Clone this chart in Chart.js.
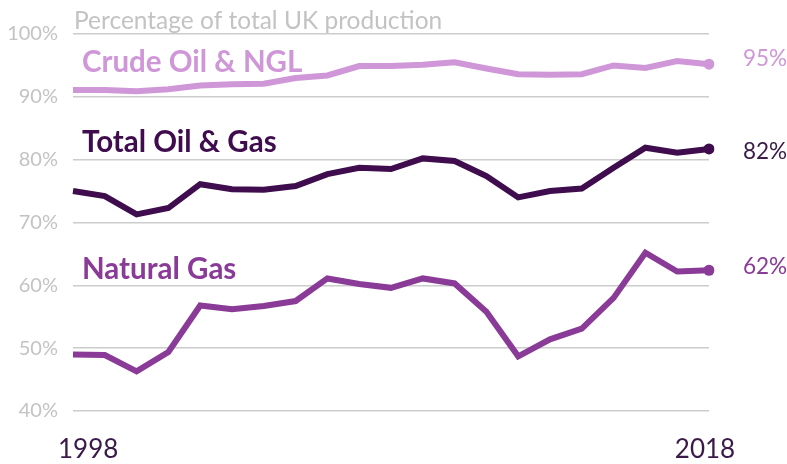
<!DOCTYPE html>
<html>
<head>
<meta charset="utf-8">
<script src="https://cdn.jsdelivr.net/npm/chart.js@4/dist/chart.umd.min.js"></script>
<style>
  html, body { margin: 0; padding: 0; background: #fff; }
  #wrap { width: 787px; height: 464px; position: relative; }
</style>
</head>
<body>
<div id="wrap"><canvas id="myChart"></canvas></div>
<script>
// years 1998..2018
var years = [];
for (var y = 1998; y <= 2018; y++) years.push(String(y));

var crudeOil = [91.1, 91.1, 90.9, 91.2, 91.8, 92.0, 92.1, 93.0, 93.4, 94.9, 94.9,
                95.1, 95.5, 94.5, 93.6, 93.5, 93.6, 95.0, 94.6, 95.7, 95.2];
var totalOilGas = [75.0, 74.2, 71.3, 72.3, 76.1, 75.3, 75.2, 75.8, 77.7, 78.7, 78.5,
                   80.2, 79.8, 77.4, 74.0, 75.0, 75.4, 78.7, 81.9, 81.1, 81.7];
var naturalGas = [49.0, 48.9, 46.3, 49.4, 56.8, 56.2, 56.7, 57.5, 61.1, 60.2, 59.6,
                  61.1, 60.3, 55.8, 48.7, 51.4, 53.1, 58.0, 65.2, 62.2, 62.4];

var seriesNames = ["Crude Oil & NGL", "Total Oil & Gas", "Natural Gas"];
var seriesColors = ["#cf97d7", "#3f0c4d", "#8a3a97"];
var endLabels = ["95%", "82%", "62%"];
var nameLabelAt = [95.4, 82.7, 62.6];   // y value where the series name sits
var yTicks = [40, 50, 60, 70, 80, 90, 100];
var axisTitle = "Percentage of total UK production";

function lastOnly(n, r) {
    var a = [];
    for (var i = 0; i < n; i++) a.push(i === n - 1 ? r : 0);
    return a;
}

var allData = [crudeOil, totalOilGas, naturalGas];
var datasets = allData.map(function (d, i) {
    return {
        label: seriesNames[i],
        data: d,
        borderColor: seriesColors[i],
        backgroundColor: seriesColors[i],
        borderWidth: 6,
        tension: 0,
        pointRadius: lastOnly(d.length, 5.5),
        pointBorderWidth: 0,
        borderJoinStyle: 'miter'
    };
});

var textPlugin = {
    id: 'textPlugin',
    afterDraw: function (chart) {
        var ctx = chart.ctx;
        var xs = chart.scales.x, ys = chart.scales.y;
        var area = chart.chartArea;
        ctx.save();
        // axis title
        ctx.fillStyle = "#c3c3c3";
        ctx.font = "24.5px Lato";
        ctx.textAlign = "left";
        ctx.textBaseline = "alphabetic";
        ctx.fillText(axisTitle, area.left + 1, 29);

        // series names
        ctx.font = "bold 29.5px Lato";
        ctx.textBaseline = "middle";
        for (var i = 0; i < seriesNames.length; i++) {
            ctx.fillStyle = seriesColors[i];
            ctx.fillText(seriesNames[i], area.left + 9, ys.getPixelForValue(nameLabelAt[i]));
        }

        // end value labels
        ctx.font = "22.5px Lato";
        var last = years.length - 1;
        var offs = [-5, 3, -4];
        for (var j = 0; j < allData.length; j++) {
            ctx.fillStyle = j === 0 ? "#cf97d7" : (j === 1 ? "#3a1a48" : "#8a3a97");
            ctx.fillText(endLabels[j], xs.getPixelForValue(last) + 34,
                ys.getPixelForValue(allData[j][last]) + offs[j]);
        }

        // first / last year
        ctx.fillStyle = "#3a1a48";
        ctx.font = "26px Lato";
        ctx.textBaseline = "alphabetic";
        ctx.textAlign = "left";
        ctx.fillText(years[0], xs.getPixelForValue(0) - 15, 458);
        ctx.textAlign = "center";
        ctx.fillText(years[last], xs.getPixelForValue(last) - 4, 458);
        ctx.restore();
    }
};

new Chart(document.getElementById('myChart'), {
    type: 'line',
    data: { labels: years, datasets: datasets },
    plugins: [textPlugin],
    options: {
        responsive: true,
        maintainAspectRatio: false,
        animation: false,
        layout: { padding: { top: 34, bottom: 53, right: 78, left: 0 } },
        plugins: { legend: { display: false }, tooltip: { enabled: false } },
        scales: {
            x: { display: false },
            y: {
                min: 40, max: 100,
                afterFit: function (s) { s.width = 73; },
                afterBuildTicks: function (s) {
                    s.ticks = yTicks.map(function (v) { return { value: v }; });
                },
                grid: { color: "#cccccc", lineWidth: 1.5, drawTicks: false },
                border: { display: false },
                ticks: {
                    color: "#c3c3c3",
                    font: { family: "Lato", size: 20 },
                    padding: 15,
                    callback: function (v) { return v + "%"; }
                }
            }
        }
    }
});
</script>
</body>
</html>
